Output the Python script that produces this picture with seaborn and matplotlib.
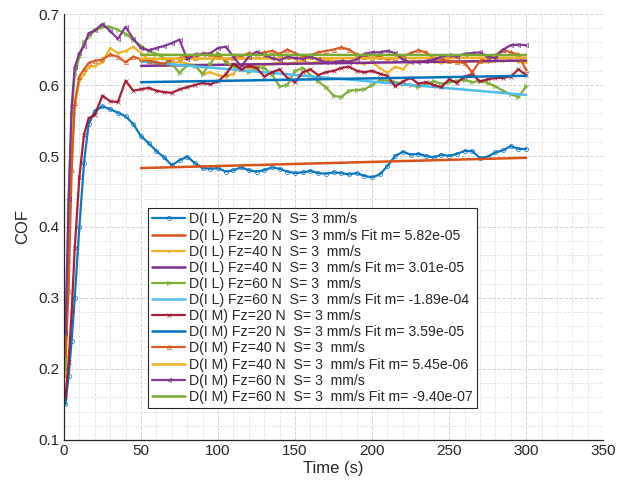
import matplotlib
matplotlib.use("Agg")
import matplotlib.pyplot as plt
from matplotlib.ticker import MultipleLocator
import seaborn as sns
import numpy as np

sns.set_style("white")
plt.rcParams['font.family'] = ['Liberation Sans', 'DejaVu Sans']

# time grid (s)
time_s = [1, 3, 5, 7, 10, 13, 16, 20, 25, 30, 35, 40, 45,
          50, 55, 60, 65, 70, 75, 80, 85, 90, 95, 100, 105, 110, 115, 120, 125,
          130, 135, 140, 145, 150, 155, 160, 165, 170, 175, 180, 185, 190, 195,
          200, 205, 210, 215, 220, 225, 230, 235, 240, 245, 250, 255, 260, 265,
          270, 275, 280, 285, 290, 295, 300]

cof_IL_20 = [0.15, 0.19, 0.24, 0.30, 0.40, 0.49, 0.545, 0.563, 0.570, 0.566, 0.561, 0.556, 0.545,
             0.528, 0.518, 0.507, 0.498, 0.487, 0.494, 0.499, 0.490, 0.483, 0.482, 0.483, 0.478,
             0.480, 0.484, 0.480, 0.478, 0.480, 0.484, 0.482, 0.478, 0.476, 0.477, 0.479, 0.476,
             0.475, 0.477, 0.476, 0.474, 0.476, 0.472, 0.470, 0.474, 0.486, 0.500, 0.506, 0.502,
             0.503, 0.500, 0.498, 0.502, 0.500, 0.503, 0.507, 0.507, 0.497, 0.499, 0.505, 0.508,
             0.514, 0.510, 0.510]

cof_IL_40 = [0.19, 0.35, 0.50, 0.57, 0.605, 0.615, 0.625, 0.627, 0.632, 0.652, 0.645, 0.648, 0.654,
             0.645, 0.636, 0.632, 0.628, 0.630, 0.633, 0.630, 0.628, 0.615, 0.618, 0.614, 0.612,
             0.616, 0.628, 0.624, 0.630, 0.628, 0.630, 0.632, 0.630, 0.632, 0.634, 0.631, 0.633,
             0.636, 0.634, 0.632, 0.633, 0.631, 0.630, 0.632, 0.624, 0.617, 0.626, 0.622, 0.634,
             0.634, 0.632, 0.633, 0.631, 0.633, 0.632, 0.632, 0.634, 0.632, 0.632, 0.634, 0.634,
             0.635, 0.633, 0.632]

cof_IL_60 = [0.20, 0.43, 0.56, 0.615, 0.640, 0.660, 0.668, 0.677, 0.682, 0.682, 0.678, 0.672, 0.664,
             0.655, 0.648, 0.644, 0.638, 0.630, 0.617, 0.628, 0.627, 0.616, 0.630, 0.645, 0.632,
             0.626, 0.622, 0.618, 0.625, 0.624, 0.615, 0.598, 0.600, 0.620, 0.624, 0.614, 0.605,
             0.597, 0.585, 0.583, 0.592, 0.593, 0.594, 0.600, 0.607, 0.606, 0.604, 0.602, 0.600,
             0.597, 0.602, 0.605, 0.602, 0.604, 0.606, 0.607, 0.604, 0.606, 0.603, 0.598, 0.592,
             0.587, 0.583, 0.598]

cof_IM_20 = [0.16, 0.21, 0.28, 0.37, 0.47, 0.53, 0.553, 0.558, 0.585, 0.577, 0.576, 0.606, 0.592,
             0.594, 0.596, 0.592, 0.590, 0.589, 0.594, 0.597, 0.600, 0.603, 0.601, 0.605, 0.615,
             0.630, 0.622, 0.627, 0.624, 0.612, 0.618, 0.622, 0.610, 0.604, 0.618, 0.622, 0.614,
             0.618, 0.620, 0.624, 0.626, 0.620, 0.618, 0.620, 0.616, 0.613, 0.598, 0.605, 0.610,
             0.602, 0.604, 0.600, 0.597, 0.608, 0.603, 0.612, 0.615, 0.605, 0.608, 0.610, 0.610,
             0.612, 0.622, 0.614]

cof_IM_40 = [0.22, 0.31, 0.48, 0.575, 0.612, 0.622, 0.631, 0.634, 0.636, 0.643, 0.640, 0.632, 0.640,
             0.636, 0.634, 0.632, 0.630, 0.636, 0.638, 0.640, 0.638, 0.645, 0.643, 0.640, 0.636,
             0.638, 0.640, 0.645, 0.642, 0.646, 0.648, 0.644, 0.650, 0.645, 0.640, 0.642, 0.646,
             0.648, 0.650, 0.653, 0.650, 0.643, 0.640, 0.638, 0.640, 0.636, 0.638, 0.640, 0.645,
             0.649, 0.646, 0.638, 0.636, 0.634, 0.633, 0.631, 0.618, 0.634, 0.640, 0.642, 0.650,
             0.646, 0.643, 0.621]

cof_IM_60 = [0.25, 0.44, 0.57, 0.625, 0.645, 0.655, 0.673, 0.677, 0.686, 0.676, 0.665, 0.682, 0.665,
             0.652, 0.649, 0.652, 0.655, 0.659, 0.664, 0.636, 0.643, 0.643, 0.645, 0.652, 0.654,
             0.640, 0.626, 0.640, 0.647, 0.642, 0.638, 0.635, 0.640, 0.638, 0.637, 0.640, 0.636,
             0.632, 0.632, 0.634, 0.633, 0.636, 0.644, 0.646, 0.646, 0.648, 0.645, 0.636, 0.632,
             0.633, 0.634, 0.636, 0.640, 0.642, 0.640, 0.644, 0.645, 0.646, 0.640, 0.638, 0.650,
             0.656, 0.657, 0.656]

# linear fits (start at 50 s, end at 300 s)
fit_t = [50, 300]
fit_IL_20 = [0.4830, 0.4975]
fit_IL_40 = [0.6270, 0.6345]
fit_IL_60 = [0.6330, 0.5860]
fit_IM_20 = [0.6040, 0.6130]
fit_IM_40 = [0.6370, 0.6384]
fit_IM_60 = [0.6425, 0.6423]

labels = [
    "D(I L) Fz=20 N  S= 3 mm/s",
    "D(I L) Fz=20 N  S= 3 mm/s Fit m= 5.82e-05",
    "D(I L) Fz=40 N  S= 3  mm/s",
    "D(I L) Fz=40 N  S= 3  mm/s Fit m= 3.01e-05",
    "D(I L) Fz=60 N  S= 3  mm/s",
    "D(I L) Fz=60 N  S= 3  mm/s Fit m= -1.89e-04",
    "D(I M) Fz=20 N  S= 3 mm/s",
    "D(I M) Fz=20 N  S= 3 mm/s Fit m= 3.59e-05",
    "D(I M) Fz=40 N  S= 3  mm/s",
    "D(I M) Fz=40 N  S= 3  mm/s Fit m= 5.45e-06",
    "D(I M) Fz=60 N  S= 3  mm/s",
    "D(I M) Fz=60 N  S= 3  mm/s Fit m= -9.40e-07",
]

C_BLUE = "#0072BD"
C_ORANGE = "#D95319"
C_YELLOW = "#EDB120"
C_PURPLE = "#7E2F8E"
C_GREEN = "#77AC30"
C_LBLUE = "#4DBEEE"
C_RED = "#A2142F"

series = [
    (time_s, cof_IL_20, C_BLUE, 'o', True),
    (fit_t, fit_IL_20, C_ORANGE, None, False),
    (time_s, cof_IL_40, C_YELLOW, '.', True),
    (fit_t, fit_IL_40, C_PURPLE, None, False),
    (time_s, cof_IL_60, C_GREEN, '>', True),
    (fit_t, fit_IL_60, C_LBLUE, None, False),
    (time_s, cof_IM_20, C_RED, 'x', True),
    (fit_t, fit_IM_20, C_BLUE, None, False),
    (time_s, cof_IM_40, C_ORANGE, '^', True),
    (fit_t, fit_IM_40, C_YELLOW, None, False),
    (time_s, cof_IM_60, C_PURPLE, '<', True),
    (fit_t, fit_IM_60, C_GREEN, None, False),
]

fig = plt.figure(figsize=(6.27, 4.84), dpi=100)
ax = fig.add_axes([0.102, 0.091, 0.860, 0.880])

for (xs, ys, col, mk, is_data), lab in zip(series, labels):
    kw = dict(x=xs, y=ys, color=col, label=lab, ax=ax, sort=False)
    if is_data:
        sns.lineplot(**kw, marker=mk, markersize=3.0, linewidth=1.6,
                     markerfacecolor='none' if mk in ('o', '>', '<', '^') else col,
                     markeredgecolor=col, markeredgewidth=0.5, alpha=0.95)
    else:
        sns.lineplot(**kw, linewidth=1.8)

ax.set_xlim(0, 350)
ax.set_ylim(0.1, 0.7)
ax.xaxis.set_major_locator(MultipleLocator(50))
ax.xaxis.set_minor_locator(MultipleLocator(10))
ax.yaxis.set_major_locator(MultipleLocator(0.1))
ax.yaxis.set_minor_locator(MultipleLocator(0.02))
ax.set_yticks(ax.get_yticks())
ax.set_yticklabels([f"{v:.1f}" for v in ax.get_yticks()])
ax.set_ylim(0.1, 0.7)

ax.grid(which='major', linestyle='--', color='#d4d4d4', linewidth=0.7)
ax.grid(which='minor', linestyle='--', color='#e2e2e2', linewidth=0.6)
ax.set_axisbelow(True)

for s in ['top', 'right']:
    ax.spines[s].set_visible(False)
for s in ['left', 'bottom']:
    ax.spines[s].set_color('#262626')
    ax.spines[s].set_linewidth(0.9)

ax.tick_params(which='major', direction='in', length=4, width=0.8, color='#262626',
               labelsize=11, labelcolor='#262626', pad=3)
ax.tick_params(which='minor', length=0)

ax.set_xlabel("Time (s)", fontsize=12, color='#262626', labelpad=2)
ax.set_ylabel("COF", fontsize=12, color='#262626', labelpad=6)

leg = ax.legend(loc='lower left', bbox_to_anchor=(0.156, 0.075), fontsize=10.2,
                frameon=True, fancybox=False, framealpha=1, edgecolor='#262626',
                handlelength=2.3, handletextpad=0.3, labelspacing=0.15,
                borderpad=0.3, borderaxespad=0)
leg.get_frame().set_linewidth(0.8)

fig.savefig("out.png", dpi=100)
